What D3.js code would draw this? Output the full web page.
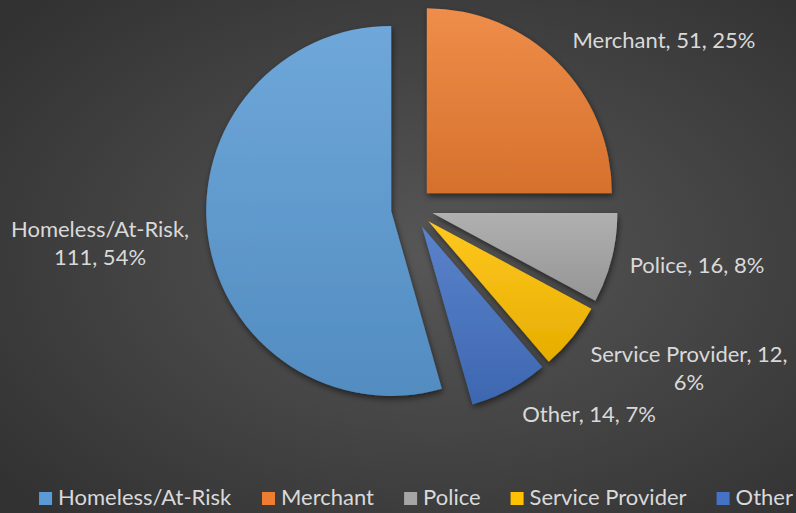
<!DOCTYPE html>
<html>
<head>
<meta charset="utf-8">
<script src="https://cdn.jsdelivr.net/npm/d3@7"></script>
<style>
  html, body { margin: 0; padding: 0; background: #3a3a3a; }
  svg { display: block; }
</style>
</head>
<body>
<div id="chart"></div>
<script>
// Data (legend / series order)
const categories = ["Homeless/At-Risk", "Merchant", "Police", "Service Provider", "Other"];
const counts = [111, 51, 16, 12, 14];
const percentLabels = ["54%", "25%", "8%", "6%", "7%"];
const colors = ["#5B9BD5", "#ED7D31", "#A5A5A5", "#FFC000", "#4472C4"];

const width = 796;
const height = 513;
const cx = 412, cy = 208;
const radius = 185;
const explode = 21;
const fontFamily = "Lato, 'Open Sans', sans-serif";
const textColor = "#d9d9d9";

// label anchors relative to the pie centre (text-anchor: middle), first line
const labelLayout = {
  "Homeless/At-Risk": { dx: -312, dy: 29 },
  "Merchant": { dx: 252, dy: -160 },
  "Police": { dx: 285, dy: 65 },
  "Service Provider": { dx: 277, dy: 154 },
  "Other": { dx: 177, dy: 214 }
};
// which slices wrap their label onto two lines
const wrapAfter = { "Homeless/At-Risk": 1, "Service Provider": 2 };

const data = categories.map((c, i) => ({ name: c, value: counts[i], pct: percentLabels[i], color: colors[i] }));
const total = d3.sum(counts);

const svg = d3.select("#chart").append("svg")
  .attr("width", width)
  .attr("height", height)
  .style("font-family", fontFamily);

const defs = svg.append("defs");

// background
const bg = defs.append("radialGradient")
  .attr("id", "bg")
  .attr("cx", "55%").attr("cy", "50%").attr("r", "70%");
bg.append("stop").attr("offset", "0%").attr("stop-color", "#575757");
bg.append("stop").attr("offset", "100%").attr("stop-color", "#323232");

svg.append("rect")
  .attr("width", width)
  .attr("height", height)
  .attr("fill", "url(#bg)");

// slice gradients, lighter at the top
data.forEach((d, i) => {
  const g = defs.append("linearGradient")
    .attr("id", "grad" + i)
    .attr("x1", 0).attr("y1", 0).attr("x2", 0).attr("y2", 1);
  g.append("stop").attr("offset", "0%").attr("stop-color", d3.interpolateRgb(d.color, "#ffffff")(0.12));
  g.append("stop").attr("offset", "100%").attr("stop-color", d3.interpolateRgb(d.color, "#000000")(0.1));
});

const shadow = defs.append("filter")
  .attr("id", "shadow")
  .attr("x", "-20%").attr("y", "-20%").attr("width", "140%").attr("height", "140%");
shadow.append("feDropShadow")
  .attr("dx", 1).attr("dy", 3)
  .attr("stdDeviation", 3)
  .attr("flood-color", "#000")
  .attr("flood-opacity", 0.55);

// first slice rotated so that the second one starts at 12 o'clock
const startAngle = 2 * Math.PI * (1 - counts[0] / total);

const pie = d3.pie()
  .sort(null)
  .value(d => d.value)
  .startAngle(startAngle)
  .endAngle(startAngle + 2 * Math.PI);

const arc = d3.arc()
  .innerRadius(0)
  .outerRadius(radius);

const arcs = pie(data);

const pieG = svg.append("g")
  .attr("transform", `translate(${cx},${cy})`);

pieG.selectAll("path")
  .data(arcs)
  .join("path")
  .attr("transform", d => {
    const mid = (d.startAngle + d.endAngle) / 2;
    return `translate(${Math.sin(mid) * explode},${-Math.cos(mid) * explode})`;
  })
  .attr("d", arc)
  .attr("fill", (d, i) => `url(#grad${i})`)
  .attr("filter", "url(#shadow)");

// data labels
const labels = pieG.selectAll("text.label")
  .data(arcs)
  .join("text")
  .attr("class", "label")
  .attr("fill", textColor)
  .attr("font-size", 22)
  .attr("text-anchor", "middle")
  .attr("x", d => labelLayout[d.data.name].dx)
  .attr("y", d => labelLayout[d.data.name].dy);

labels.each(function (d) {
  const parts = [d.data.name, String(d.data.value), d.data.pct];
  const cut = wrapAfter[d.data.name];
  const lines = cut
    ? [parts.slice(0, cut).join(", ") + ",", parts.slice(cut).join(", ")]
    : [parts.join(", ")];
  const t = d3.select(this);
  lines.forEach((ln, k) => {
    t.append("tspan")
      .attr("x", labelLayout[d.data.name].dx)
      .attr("dy", k === 0 ? 0 : 28)
      .text(ln);
  });
});

// legend
const legendY = 505;
const sq = 13;
const legend = svg.append("g");
const items = legend.selectAll("g")
  .data(data)
  .join("g");

items.append("rect")
  .attr("width", sq)
  .attr("height", sq)
  .attr("y", legendY - sq)
  .attr("fill", d => d.color);

items.append("text")
  .attr("x", sq + 6)
  .attr("y", legendY)
  .attr("fill", textColor)
  .attr("font-size", 22)
  .text(d => d.name);

// lay out the legend items in a centred row
const gap = 30;
const widths = [];
items.each(function () {
  widths.push(this.getBBox().width);
});
const legendWidth = d3.sum(widths) + gap * (widths.length - 1);
let lx = 416 - legendWidth / 2;
items.attr("transform", (d, i) => {
  const x = lx;
  lx += widths[i] + gap;
  return `translate(${x},0)`;
});
</script>
</body>
</html>
